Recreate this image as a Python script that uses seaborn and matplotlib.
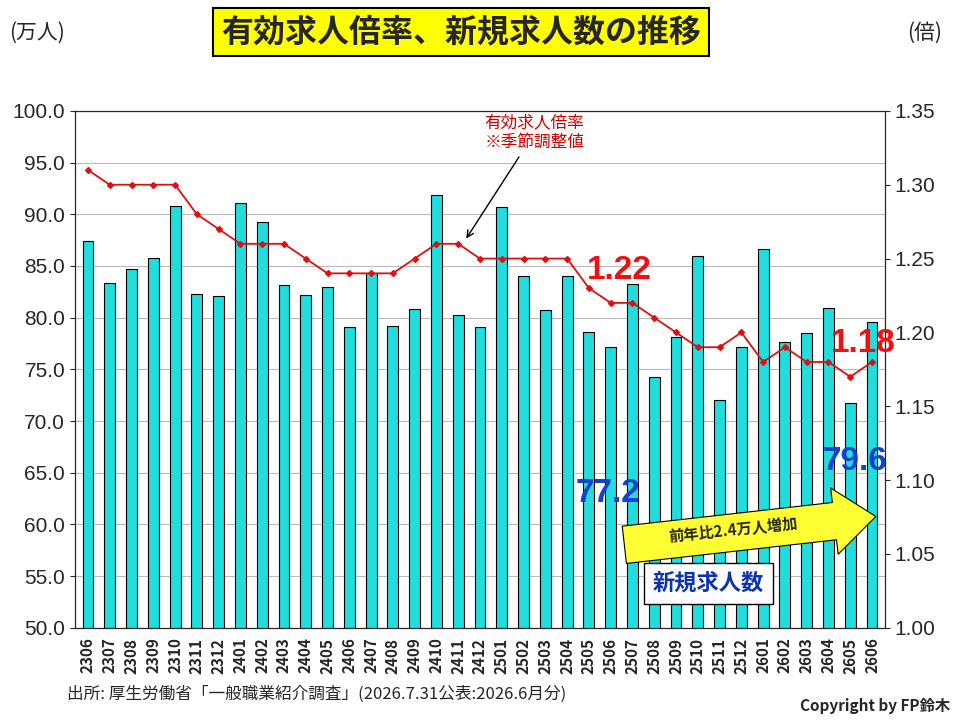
import matplotlib
matplotlib.use("Agg")
import matplotlib.pyplot as plt
import seaborn as sns
import pandas as pd

months = ["2306", "2307", "2308", "2309", "2310", "2311", "2312",
          "2401", "2402", "2403", "2404", "2405", "2406", "2407", "2408", "2409", "2410", "2411", "2412",
          "2501", "2502", "2503", "2504", "2505", "2506", "2507", "2508", "2509", "2510", "2511", "2512",
          "2601", "2602", "2603", "2604", "2605", "2606"]
new_offers = [87.4, 83.4, 84.7, 85.8, 90.8, 82.3, 82.1,
              91.1, 89.3, 83.2, 82.2, 83.0, 79.1, 84.3, 79.2, 80.8, 91.9, 80.3, 79.1,
              90.7, 84.0, 80.7, 84.0, 78.6, 77.2, 83.3, 74.3, 78.1, 86.0, 72.0, 77.2,
              86.6, 77.6, 78.5, 80.9, 71.7, 79.6]
ratio = [1.31, 1.30, 1.30, 1.30, 1.30, 1.28, 1.27,
         1.26, 1.26, 1.26, 1.25, 1.24, 1.24, 1.24, 1.24, 1.25, 1.26, 1.26, 1.25,
         1.25, 1.25, 1.25, 1.25, 1.23, 1.22, 1.22, 1.21, 1.20, 1.19, 1.19, 1.20,
         1.18, 1.19, 1.18, 1.18, 1.17, 1.18]

sns.set_style("white")
plt.rcParams['font.family'] = ['Noto Sans CJK JP', 'DejaVu Sans']

df = pd.DataFrame({"month": months, "offers": new_offers, "ratio": ratio})

fig = plt.figure(figsize=(9.6, 7.2), dpi=100)
ax = fig.add_axes([0.078, 0.128, 0.844, 0.718])
sns.barplot(data=df, x="month", y="offers", ax=ax, color="#22DDDD",
            edgecolor="black", linewidth=0.8, width=0.5, saturation=1)
ax.set_ylim(50, 100)
ax.set_yticks([50 + 5 * i for i in range(11)])
ax.set_yticklabels([f"{50 + 5 * i:.1f}" for i in range(11)], fontsize=15, family="Liberation Sans")
ax.set_xlabel("")
ax.set_ylabel("")
ax.tick_params(axis="x", labelrotation=90, labelsize=11)
for t in ax.get_xticklabels():
    t.set_fontweight("bold")
ax.grid(axis="y", color="#bbbbbb", linewidth=0.8)
ax.set_axisbelow(True)
for s in ax.spines.values():
    s.set_color("black")

ax2 = ax.twinx()
ax2.plot(range(len(months)), ratio, color="#DD1111", marker="D", markersize=3, linewidth=1.3)
ax2.set_ylim(1.0, 1.35)
ax2.set_yticks([1.0 + 0.05 * i for i in range(8)])
ax2.set_yticklabels([f"{1.0 + 0.05 * i:.2f}" for i in range(8)], fontsize=15, family="Liberation Sans")
ax.set_xlim(-0.6, len(months) - 0.4)

fig.text(0.01, 0.955, "(万人)", fontsize=15, va="center")
fig.text(0.945, 0.955, "(倍)", fontsize=15, va="center")
fig.text(0.48, 0.955, "有効求人倍率、新規求人数の推移", fontsize=23, fontweight="bold",
         ha="center", va="center",
         bbox=dict(boxstyle="square,pad=0.25", facecolor="#FFFF00", edgecolor="black", linewidth=1.5))

ax2.annotate("有効求人倍率\n※季節調整値", xy=(17.3, 1.262), xytext=(20.5, 1.335),
             ha="center", va="center", fontsize=12, color="#CC0000",
             arrowprops=dict(arrowstyle="->", color="black", lw=1))
ax2.text(24.4, 1.236, "1.22", fontsize=24, fontweight="bold", color="#EE1111",
         ha="center", family="Liberation Sans")
ax2.text(35.6, 1.187, "1.18", fontsize=24, fontweight="bold", color="#EE1111",
         ha="center", family="Liberation Sans")
ax.text(23.9, 62.2, "77.2", fontsize=24, fontweight="bold", color="#1144CC",
        ha="center", family="Liberation Sans")
ax.text(35.2, 65.3, "79.6", fontsize=24, fontweight="bold", color="#1144CC",
        ha="center", family="Liberation Sans")
ax.annotate("", xy=(36.3, 60.8), xytext=(24.5, 58.0),
            arrowprops=dict(arrowstyle="simple,head_width=1.6,head_length=1.0,tail_width=0.9",
                            mutation_scale=30, facecolor="#FFFF33", edgecolor="black", lw=0.8))
ax.text(29.6, 59.4, "前年比2.4万人増加", fontsize=11, fontweight="bold", rotation=6,
        ha="center", va="center")
ax.text(28.5, 54.3, "新規求人数", fontsize=16, fontweight="bold", color="#1133AA",
        ha="center", va="center",
        bbox=dict(boxstyle="square,pad=0.4", facecolor="white", edgecolor="black", linewidth=1))

fig.text(0.07, 0.03, "出所: 厚生労働省「一般職業紹介調査」(2026.7.31公表:2026.6月分)", fontsize=12)
fig.text(0.99, 0.012, "Copyright by FP鈴木", fontsize=11, fontweight="bold", ha="right")

fig.savefig("out.png", dpi=100)
